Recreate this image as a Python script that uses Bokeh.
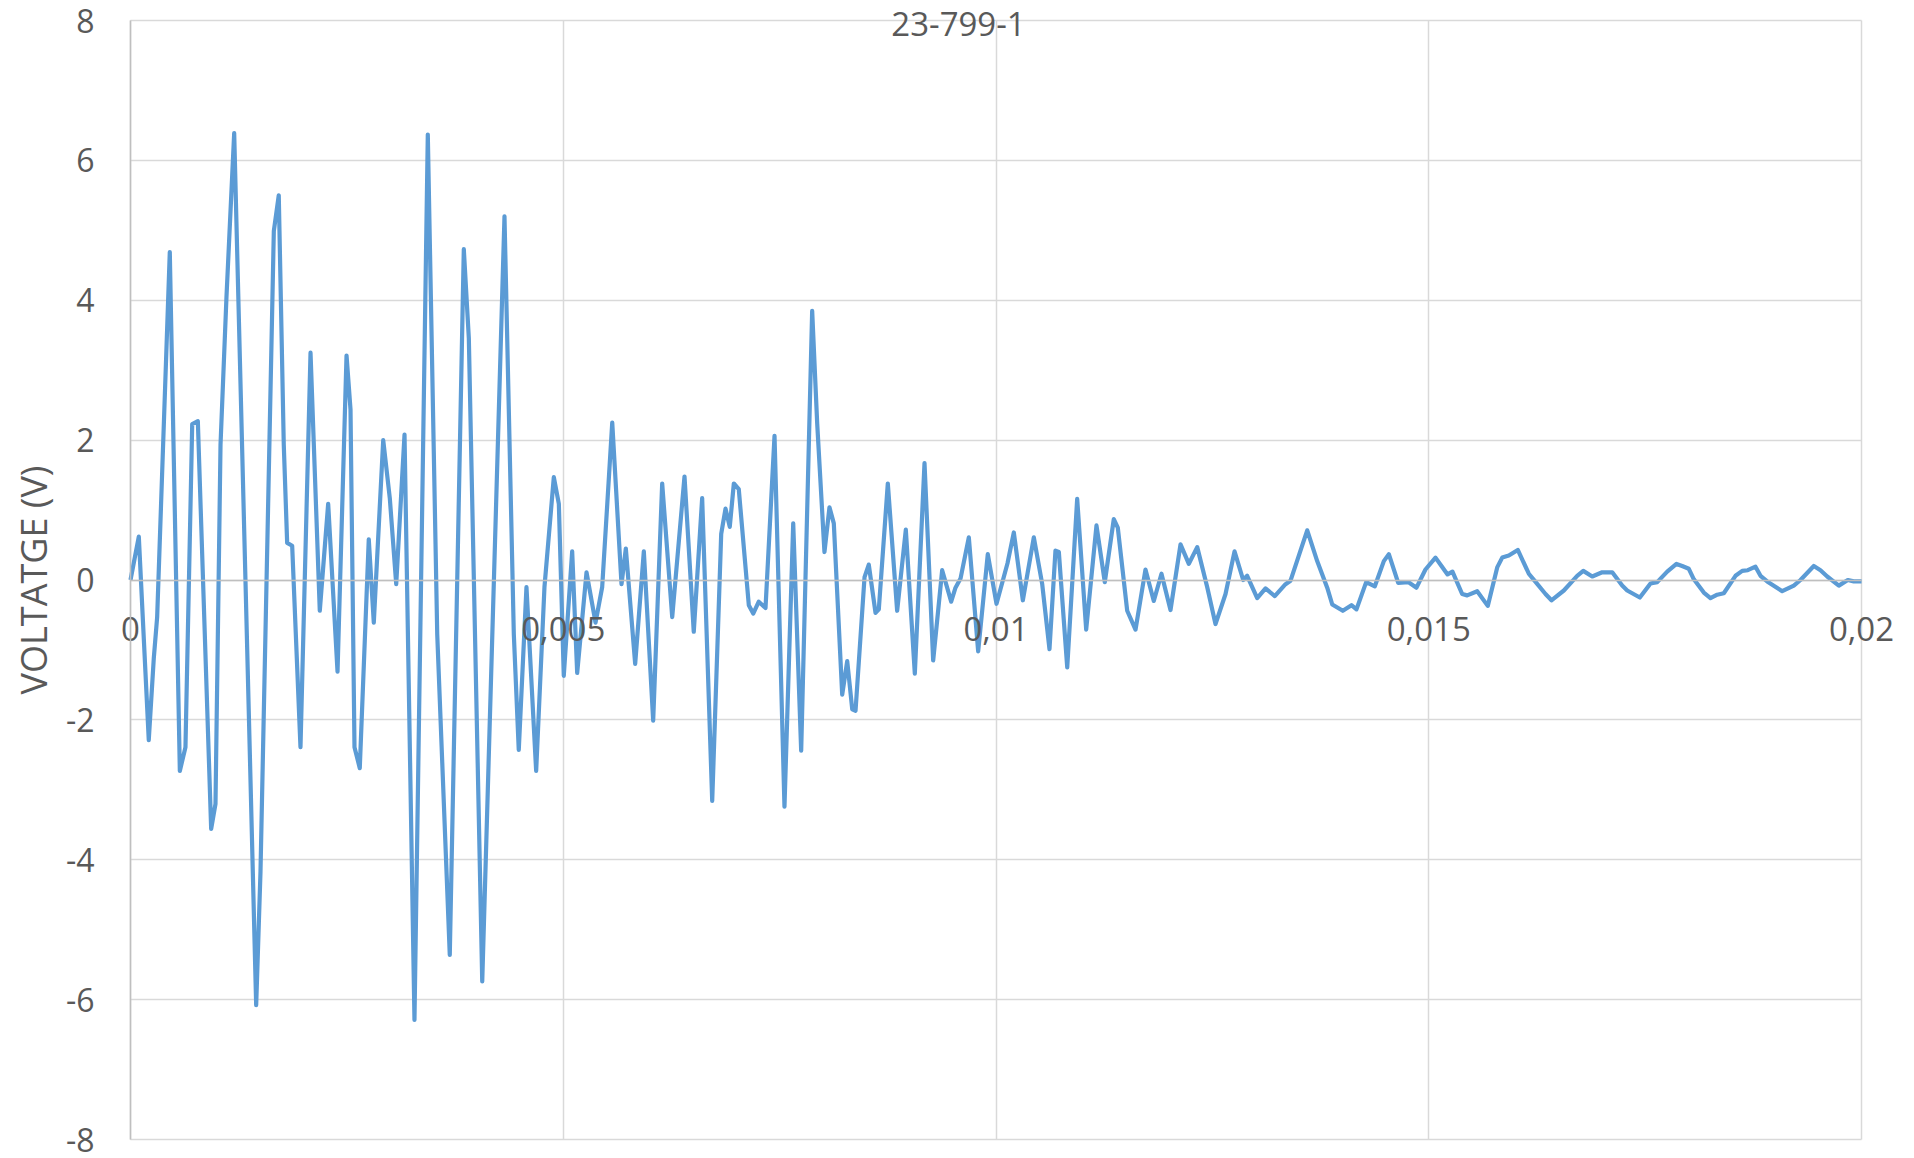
from bokeh.plotting import figure
from bokeh.models import Range1d, FixedTicker, CustomJSTickFormatter, Label, ColumnDataSource
from bokeh.embed import file_html
from bokeh.resources import INLINE

title_text = "23-799-1"
y_axis_title = "VOLTATGE (V)"
x_ticks = [0, 0.005, 0.01, 0.015, 0.02]
y_ticks = [-8, -6, -4, -2, 0, 2, 4, 6, 8]

time_s = [
    0.000000, 0.000096, 0.000211, 0.000269, 0.000308, 0.000454, 0.000570, 0.000635,
    0.000713, 0.000778, 0.000932, 0.000982, 0.001040, 0.001109, 0.001198, 0.001452,
    0.001502, 0.001656, 0.001713, 0.001771, 0.001810, 0.001868, 0.001964, 0.002080,
    0.002187, 0.002284, 0.002392, 0.002496, 0.002542, 0.002588, 0.002649, 0.002753,
    0.002811, 0.002920, 0.002996, 0.003070, 0.003166, 0.003281, 0.003435, 0.003544,
    0.003689, 0.003851, 0.003909, 0.004064, 0.004321, 0.004429, 0.004486, 0.004575,
    0.004687, 0.004783, 0.004891, 0.004949, 0.005006, 0.005103, 0.005161, 0.005269,
    0.005373, 0.005450, 0.005566, 0.005673, 0.005723, 0.005831, 0.005931, 0.006039,
    0.006143, 0.006259, 0.006401, 0.006508, 0.006605, 0.006721, 0.006825, 0.006875,
    0.006924, 0.006971, 0.007028, 0.007144, 0.007195, 0.007259, 0.007337, 0.007441,
    0.007556, 0.007657, 0.007749, 0.007876, 0.007934, 0.008018, 0.008076, 0.008126,
    0.008223, 0.008281, 0.008339, 0.008377, 0.008481, 0.008530, 0.008608, 0.008646,
    0.008750, 0.008858, 0.008958, 0.009062, 0.009174, 0.009274, 0.009378, 0.009482,
    0.009532, 0.009590, 0.009686, 0.009794, 0.009905, 0.010006, 0.010133, 0.010206,
    0.010310, 0.010437, 0.010534, 0.010618, 0.010687, 0.010726, 0.010823, 0.010938,
    0.011042, 0.011161, 0.011257, 0.011361, 0.011407, 0.011516, 0.011612, 0.011727,
    0.011823, 0.011912, 0.012016, 0.012132, 0.012228, 0.012325, 0.012440, 0.012536,
    0.012652, 0.012756, 0.012856, 0.012902, 0.013018, 0.013114, 0.013221, 0.013345,
    0.013403, 0.013518, 0.013596, 0.013711, 0.013827, 0.013885, 0.014007, 0.014107,
    0.014165, 0.014277, 0.014377, 0.014481, 0.014539, 0.014647, 0.014763, 0.014858,
    0.014962, 0.015078, 0.015147, 0.015217, 0.015274, 0.015386, 0.015444, 0.015560,
    0.015682, 0.015791, 0.015849, 0.015925, 0.016029, 0.016156, 0.016222, 0.016349,
    0.016418, 0.016561, 0.016715, 0.016785, 0.016889, 0.017004, 0.017120, 0.017235,
    0.017293, 0.017439, 0.017562, 0.017640, 0.017755, 0.017862, 0.017928, 0.018005,
    0.018063, 0.018178, 0.018255, 0.018333, 0.018409, 0.018544, 0.018622, 0.018686,
    0.018775, 0.018833, 0.018910, 0.019084, 0.019218, 0.019295, 0.019449, 0.019526,
    0.019604, 0.019738, 0.019842, 0.019911, 0.020000,
]

voltage_v = [
    0.00, 0.62, -2.29, -1.12, -0.53, 4.69, -2.73, -2.39,
    2.23, 2.27, -3.56, -3.20, 1.93, 4.05, 6.39, -6.08,
    -4.17, 4.99, 5.50, 1.93, 0.53, 0.49, -2.39, 3.25,
    -0.44, 1.09, -1.31, 3.21, 2.44, -2.39, -2.69, 0.58,
    -0.61, 2.00, 1.17, -0.06, 2.08, -6.29, 6.37, -0.78,
    -5.36, 4.73, 3.46, -5.74, 5.20, -0.78, -2.43, -0.10,
    -2.73, -0.10, 1.47, 1.09, -1.37, 0.41, -1.33, 0.11,
    -0.61, -0.10, 2.25, -0.06, 0.45, -1.20, 0.41, -2.01,
    1.38, -0.53, 1.48, -0.74, 1.17, -3.16, 0.66, 1.02,
    0.76, 1.38, 1.30, -0.36, -0.48, -0.31, -0.40, 2.06,
    -3.24, 0.81, -2.44, 3.85, 2.24, 0.40, 1.04, 0.81,
    -1.64, -1.16, -1.85, -1.87, 0.04, 0.22, -0.47, -0.42,
    1.38, -0.44, 0.72, -1.34, 1.67, -1.15, 0.14, -0.31,
    -0.11, 0.02, 0.61, -1.02, 0.37, -0.34, 0.24, 0.68,
    -0.29, 0.61, -0.06, -0.99, 0.42, 0.40, -1.25, 1.16,
    -0.71, 0.78, -0.03, 0.87, 0.75, -0.44, -0.71, 0.15,
    -0.30, 0.09, -0.43, 0.51, 0.23, 0.47, -0.10, -0.63,
    -0.20, 0.41, 0.00, 0.06, -0.26, -0.12, -0.23, -0.06,
    -0.01, 0.42, 0.71, 0.27, -0.11, -0.35, -0.44, -0.36,
    -0.42, -0.03, -0.09, 0.27, 0.37, -0.04, -0.03, -0.11,
    0.15, 0.32, 0.20, 0.08, 0.12, -0.20, -0.22, -0.16,
    -0.37, 0.18, 0.32, 0.35, 0.43, 0.09, -0.01, -0.20,
    -0.29, -0.15, 0.06, 0.13, 0.05, 0.11, 0.11, -0.08,
    -0.15, -0.25, -0.05, -0.03, 0.12, 0.23, 0.20, 0.16,
    0.01, -0.18, -0.26, -0.21, -0.19, 0.06, 0.13, 0.14,
    0.19, 0.06, -0.02, -0.16, -0.08, 0.00, 0.20, 0.14,
    0.05, -0.08, 0.00, -0.02, -0.02,
]

FONT = "Open Sans"
TEXT_COLOR = "#595959"
GRID_COLOR = "#d9d9d9"
AXIS_COLOR = "#bfbfbf"
LINE_COLOR = "#5b9bd5"

# Canvas and plot-area geometry (pixels)
W, H = 1914, 1158
PA_LEFT, PA_RIGHT, PA_TOP, PA_BOTTOM = 130, 1861, 20, 1139

# The frame covers the whole canvas, so that the plot area's texts are never clipped;
# the ranges are widened so that the tick span lands on the plot area.
x_per_px = (x_ticks[-1] - x_ticks[0]) / (PA_RIGHT - PA_LEFT)
y_per_px = (y_ticks[-1] - y_ticks[0]) / (PA_BOTTOM - PA_TOP)
x_range = Range1d(x_ticks[0] - PA_LEFT * x_per_px, x_ticks[-1] + (W - PA_RIGHT) * x_per_px)
y_range = Range1d(y_ticks[0] - (H - PA_BOTTOM) * y_per_px, y_ticks[-1] + PA_TOP * y_per_px)

p = figure(
    width=W, height=H,
    output_backend="svg", toolbar_location=None,
    x_range=x_range, y_range=y_range,
    min_border_left=0, min_border_right=0, min_border_top=0, min_border_bottom=0,
)
p.background_fill_color = "white"
p.border_fill_color = "white"
p.outline_line_color = None

p.xgrid.ticker = FixedTicker(ticks=x_ticks)
p.ygrid.ticker = FixedTicker(ticks=y_ticks)
p.xgrid.cross_bounds = (y_ticks[0], y_ticks[-1])
p.ygrid.cross_bounds = (x_ticks[0], x_ticks[-1])
p.xgrid.grid_line_color = GRID_COLOR
p.ygrid.grid_line_color = GRID_COLOR
p.xgrid.grid_line_width = 1.5
p.ygrid.grid_line_width = 1.5

src = ColumnDataSource(data=dict(t=time_s, v=voltage_v))
p.line("t", "v", source=src, line_color=LINE_COLOR, line_width=4.2, line_join="round")

# Horizontal axis, crossing at V = 0
xa = p.xaxis[0]
xa.fixed_location = 0
xa.bounds = (x_ticks[0], x_ticks[-1])
xa.ticker = FixedTicker(ticks=x_ticks)
xa.formatter = CustomJSTickFormatter(code="""
let s = tick.toFixed(3);
s = s.replace(/0+$/, '');
s = s.replace(/\\.$/, '');
return s.replace('.', ',');
""")
xa.axis_line_color = AXIS_COLOR
xa.axis_line_width = 1.5
xa.major_tick_line_color = None
xa.minor_tick_line_color = None
xa.major_label_standoff = 31
xa.major_label_text_font = FONT
xa.major_label_text_font_size = "33px"
xa.major_label_text_color = TEXT_COLOR

# Vertical axis at t = 0
ya = p.yaxis[0]
ya.fixed_location = x_ticks[0]
ya.bounds = (y_ticks[0], y_ticks[-1])
ya.ticker = FixedTicker(ticks=y_ticks)
ya.formatter = CustomJSTickFormatter(code="return tick.toFixed(0);")
ya.axis_line_color = AXIS_COLOR
ya.axis_line_width = 1.5
ya.major_tick_line_color = None
ya.minor_tick_line_color = None
ya.major_label_standoff = 30
ya.major_label_text_font = FONT
ya.major_label_text_font_size = "32px"
ya.major_label_text_color = TEXT_COLOR
ya.axis_label = y_axis_title
ya.axis_label_text_font = FONT
ya.axis_label_text_font_size = "36px"
ya.axis_label_text_font_style = "normal"
ya.axis_label_text_color = TEXT_COLOR
ya.axis_label_standoff = 5

title_label = Label(
    x=958, y=H - 23, x_units="screen", y_units="screen",
    text=title_text, text_align="center", text_baseline="middle",
    text_font=FONT, text_font_size="33px", text_color=TEXT_COLOR,
)
p.add_layout(title_label)

open("out.html", "w").write(file_html(p, INLINE))
